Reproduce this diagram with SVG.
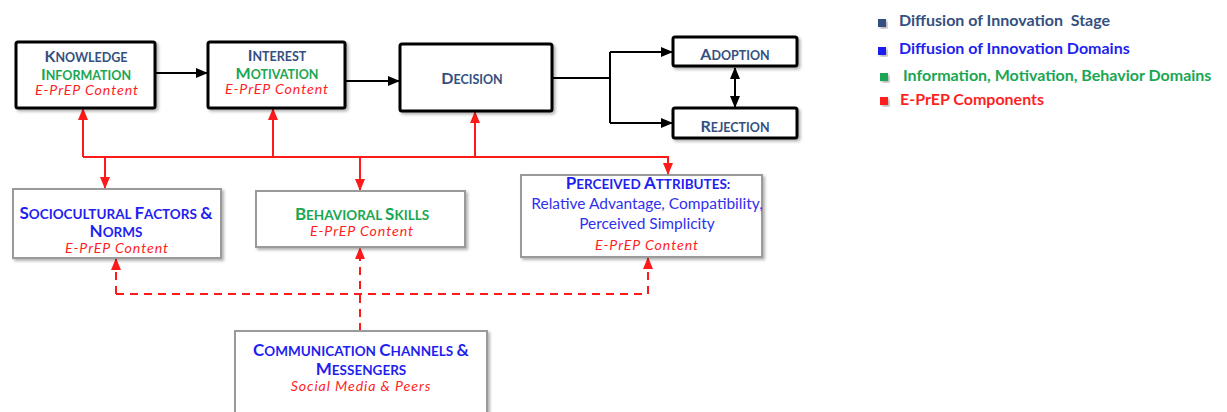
<svg xmlns="http://www.w3.org/2000/svg" width="1227" height="412" viewBox="0 0 1227 412">
<style>
.bbox{fill:#fff;stroke:#000;stroke-width:3}
.gbox{fill:#fff;stroke:#9a9a9a;stroke-width:2}
.h{font-family:Lato,"Liberation Sans",sans-serif;font-weight:bold;text-anchor:middle}
.b{font-size:16px}
.s{font-size:12.5px}
.lb{font-size:17px}
.ls{font-size:13.5px}
.stage{fill:#34507f}
.dom{fill:#1f1fef}
.imb{fill:#1aa652}
.ep{font-family:Lato,"Liberation Sans",sans-serif;font-style:italic;font-size:14.2px;letter-spacing:0.9px;fill:#ff1f1f;text-anchor:middle}
.reg{font-family:Lato,"Liberation Sans",sans-serif;font-size:15.5px;fill:#3030ee;text-anchor:middle}
.leg{font-family:Lato,"Liberation Sans",sans-serif;font-weight:bold;font-size:16px;white-space:pre}
.blk{fill:none;stroke:#000;stroke-width:2}
.red{fill:none;stroke:#ff1a1a;stroke-width:2}
.dash{fill:none;stroke:#ff1a1a;stroke-width:2;stroke-dasharray:8,6}
</style>
<defs>
<filter id="sh" x="-10%" y="-10%" width="130%" height="130%">
<feDropShadow dx="2" dy="2" stdDeviation="1.5" flood-color="#000" flood-opacity="0.3"/>
</filter>
<marker id="ab" markerUnits="userSpaceOnUse" markerWidth="12" markerHeight="10" refX="11" refY="5" orient="auto-start-reverse">
<path d="M0,0 L12,5 L0,10 z" fill="#000"/>
</marker>
<marker id="ar" markerUnits="userSpaceOnUse" markerWidth="12" markerHeight="10" refX="11" refY="5" orient="auto-start-reverse">
<path d="M0,0 L12,5 L0,10 z" fill="#ff1a1a"/>
</marker>
</defs>

<g id="connectors">
<path class="blk" d="M155,73 H207" marker-end="url(#ab)"/>
<path class="blk" d="M340,81 H399" marker-end="url(#ab)"/>
<path class="blk" d="M552,78 H610 M610,52 V123"/>
<path class="blk" d="M610,52 H672" marker-end="url(#ab)"/>
<path class="blk" d="M610,123 H672" marker-end="url(#ab)"/>
<path class="blk" d="M735,68 V107" marker-start="url(#ab)" marker-end="url(#ab)"/>
<path class="red" d="M83,157 H668 V174" marker-end="url(#ar)"/>
<path class="red" d="M83,157 V109" marker-end="url(#ar)"/>
<path class="red" d="M273,157 V109" marker-end="url(#ar)"/>
<path class="red" d="M475,157 V112" marker-end="url(#ar)"/>
<path class="red" d="M105,157 V188" marker-end="url(#ar)"/>
<path class="red" d="M360,157 V190" marker-end="url(#ar)"/>
<path class="dash" d="M360,331 V248" marker-end="url(#ar)"/>
<path class="dash" d="M116,294 V259" marker-end="url(#ar)"/>
<path class="dash" d="M116,294 H648 V258" marker-end="url(#ar)"/>
</g>

<g id="knowledge">
<rect class="bbox" x="16" y="42" width="139" height="66" rx="2" filter="url(#sh)"/>
<text class="h stage" x="86" y="62"><tspan class="b">K</tspan><tspan class="s">NOWLEDGE</tspan></text>
<text class="h imb" x="86" y="80"><tspan class="b">I</tspan><tspan class="s">NFORMATION</tspan></text>
<text class="ep" x="87" y="95">E-PrEP Content</text>
</g>

<g id="interest">
<rect class="bbox" x="208" y="42" width="137" height="66" rx="2" filter="url(#sh)"/>
<text class="h stage" x="277" y="61"><tspan class="b">I</tspan><tspan class="s">NTEREST</tspan></text>
<text class="h imb" x="277" y="79"><tspan class="b">M</tspan><tspan class="s">OTIVATION</tspan></text>
<text class="ep" x="277" y="94">E-PrEP Content</text>
</g>

<g id="decision">
<rect class="bbox" x="400" y="44" width="152" height="67" rx="2" filter="url(#sh)"/>
<text class="h stage" x="472" y="84"><tspan class="b">D</tspan><tspan class="s">ECISION</tspan></text>
</g>

<g id="adoption">
<rect class="bbox" x="673" y="37" width="124" height="29" rx="2" filter="url(#sh)"/>
<text class="h stage" x="735" y="60"><tspan class="b">A</tspan><tspan class="s">DOPTION</tspan></text>
</g>

<g id="rejection">
<rect class="bbox" x="673" y="108" width="124" height="30" rx="2" filter="url(#sh)"/>
<text class="h stage" x="735" y="132"><tspan class="b">R</tspan><tspan class="s">EJECTION</tspan></text>
</g>

<g id="sociocultural">
<rect class="gbox" x="13" y="189" width="208" height="69" filter="url(#sh)"/>
<text class="h dom" x="116" y="219"><tspan class="lb">S</tspan><tspan class="ls">OCIOCULTURAL </tspan><tspan class="lb">F</tspan><tspan class="ls">ACTORS </tspan><tspan class="lb">&amp;</tspan></text>
<text class="h dom" x="116" y="237"><tspan class="lb">N</tspan><tspan class="ls">ORMS</tspan></text>
<text class="ep" x="117" y="253">E-PrEP Content</text>
</g>

<g id="behavioral">
<rect class="gbox" x="256" y="191" width="209" height="56" filter="url(#sh)"/>
<text class="h imb" x="362" y="220"><tspan class="lb">B</tspan><tspan class="ls">EHAVIORAL </tspan><tspan class="lb">S</tspan><tspan class="ls">KILLS</tspan></text>
<text class="ep" x="362" y="236">E-PrEP Content</text>
</g>

<g id="perceived">
<rect class="gbox" x="521" y="175" width="241" height="82" filter="url(#sh)"/>
<text class="h dom" x="648" y="189"><tspan class="lb">P</tspan><tspan class="ls">ERCEIVED </tspan><tspan class="lb">A</tspan><tspan class="ls">TTRIBUTES:</tspan></text>
<text class="reg" x="647" y="209">Relative Advantage, Compatibility,</text>
<text class="reg" x="647" y="229">Perceived Simplicity</text>
<text class="ep" x="647" y="250">E-PrEP Content</text>
</g>

<g id="communication">
<rect class="gbox" x="235" y="331" width="252" height="85" filter="url(#sh)"/>
<text class="h dom" x="361" y="356"><tspan class="lb">C</tspan><tspan class="ls">OMMUNICATION </tspan><tspan class="lb">C</tspan><tspan class="ls">HANNELS </tspan><tspan class="lb">&amp;</tspan></text>
<text class="h dom" x="361" y="375"><tspan class="lb">M</tspan><tspan class="ls">ESSENGERS</tspan></text>
<text class="ep" x="361" y="391">Social Media &amp; Peers</text>
</g>

<g id="legend">
<rect x="878" y="19" width="8" height="8" fill="#34507f" filter="url(#sh)"/>
<text class="leg stage" x="899" y="26">Diffusion of Innovation  Stage</text>
<rect x="878" y="47" width="8" height="8" fill="#1f1fef" filter="url(#sh)"/>
<text class="leg dom" x="899" y="54">Diffusion of Innovation Domains</text>
<rect x="880" y="73" width="8" height="8" fill="#1aa652" filter="url(#sh)"/>
<text class="leg imb" x="903" y="81">Information, Motivation, Behavior Domains</text>
<rect x="880" y="97" width="8" height="8" fill="#ff1f1f" filter="url(#sh)"/>
<text class="leg" x="900" y="105" fill="#ff1f1f">E-PrEP Components</text>
</g>
</svg>
